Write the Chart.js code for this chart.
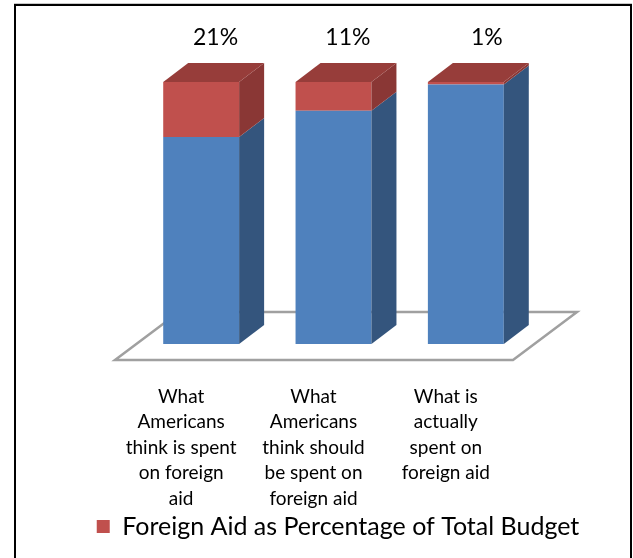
<!DOCTYPE html>
<html lang="en">
<head>
  <meta charset="UTF-8" />
  <title>Foreign Aid as Percentage of Total Budget</title>
  <script src="https://cdn.jsdelivr.net/npm/chart.js"></script>
  <style>
    * { margin: 0; padding: 0; box-sizing: border-box; }
    body { background: #fff; width: 633px; height: 558px; overflow: hidden; position: relative; }
    .wrap { position: absolute; left: 0; top: 0; width: 633px; height: 558px; }
    .frame {
      position: absolute; left: 14px; top: 4px; width: 618px; height: 600px;
      border: 2px solid #000; box-shadow: 0 -1px 0 #c8c8c8; pointer-events: none;
    }
  </style>
</head>
<body>
  <div class="wrap"><canvas id="chart"></canvas></div>
  <div class="frame"></div>

  <script>
    // data
    const categories = [
      ['What', 'Americans', 'think is spent', 'on foreign', 'aid'],
      ['What', 'Americans', 'think should', 'be spent on', 'foreign aid'],
      ['What is', 'actually', 'spent on', 'foreign aid']
    ];
    const aidPct = [21, 11, 1];
    const restPct = [79, 89, 99];
    const seriesName = 'Foreign Aid as Percentage of Total Budget';

    const FONT = 'Lato, "Open Sans", sans-serif';
    const frontColors = ['#4f81bd', '#c0504d'];
    const sideColors = ['#34557d', '#8a3735'];
    const topColor = '#973d3a';
    const DX = 25, DY = -19;

    // draws floor, bar sides/tops and % labels around the flat bars
    const box3d = {
      id: 'box3d',
      beforeDatasetsDraw(chart) {
        const { ctx, chartArea } = chart;
        const y0 = chart.scales.y.getPixelForValue(0);
        const fy = y0 + 16, by = y0 - 32;
        const lx = chartArea.left - 20, rx = chartArea.right - 19;
        ctx.save();
        ctx.beginPath();
        ctx.moveTo(lx, fy);
        ctx.lineTo(rx, fy);
        ctx.lineTo(rx + 64, by);
        ctx.lineTo(lx + 64, by);
        ctx.closePath();
        ctx.fillStyle = '#fff';
        ctx.fill();
        ctx.strokeStyle = '#a0a0a0';
        ctx.lineWidth = 2.5;
        ctx.stroke();
        ctx.restore();
      },
      afterDatasetsDraw(chart) {
        const { ctx } = chart;
        const n = chart.data.datasets.length;
        ctx.save();
        categories.forEach((c, i) => {
          let last = null;
          for (let d = 0; d < n; d++) {
            const p = chart.getDatasetMeta(d).data[i].getProps(['x', 'y', 'base', 'width'], true);
            const r = p.x + p.width / 2;
            const t = Math.min(p.y, p.base), b = Math.max(p.y, p.base);
            ctx.beginPath();
            ctx.moveTo(r, b);
            ctx.lineTo(r + DX, b + DY);
            ctx.lineTo(r + DX, t + DY);
            ctx.lineTo(r, t);
            ctx.closePath();
            ctx.fillStyle = sideColors[d];
            ctx.fill();
            last = { l: p.x - p.width / 2, r, t };
          }
          ctx.beginPath();
          ctx.moveTo(last.l, last.t);
          ctx.lineTo(last.l + DX, last.t + DY);
          ctx.lineTo(last.r + DX, last.t + DY);
          ctx.lineTo(last.r, last.t);
          ctx.closePath();
          ctx.fillStyle = topColor;
          ctx.fill();

          ctx.fillStyle = '#000';
          ctx.font = '23px ' + FONT;
          ctx.textAlign = 'right';
          ctx.textBaseline = 'middle';
          ctx.fillText(aidPct[i] + '%', last.r - 1, last.t - 44);
        });
        ctx.restore();
      }
    };

    Chart.defaults.color = '#000';
    Chart.defaults.font.family = FONT;

    // invisible side axes only reserve room so the plot sits where the reference has it
    const spacer = w => ({
      display: true,
      grid: { display: false, drawTicks: false },
      border: { display: false },
      ticks: { display: false },
      afterFit: s => { s.width = w; }
    });

    new Chart(document.getElementById('chart'), {
      type: 'bar',
      data: {
        labels: categories,
        datasets: [
          { label: 'Rest of Budget', data: restPct, backgroundColor: frontColors[0], borderWidth: 0 },
          { label: seriesName, data: aidPct, backgroundColor: frontColors[1], borderWidth: 0 }
        ]
      },
      options: {
        responsive: true,
        maintainAspectRatio: false,
        animation: false,
        layout: { padding: { left: 43, right: 0, top: 82, bottom: 9 } },
        barPercentage: 0.8,
        categoryPercentage: 0.717,
        scales: {
          x: {
            stacked: true,
            grid: { display: false, drawTicks: false },
            border: { display: false },
            ticks: {
              maxRotation: 0,
              autoSkip: false,
              padding: 40,
              labelOffset: -20,
              font: { size: 19, lineHeight: 1.34 }
            },
            afterFit: s => { s.height = 170; }
          },
          y: Object.assign(spacer(92), { stacked: true, min: 0, max: 100, position: 'left' }),
          yr: Object.assign(spacer(101), { position: 'right', min: 0, max: 100 })
        },
        plugins: {
          legend: {
            position: 'bottom',
            labels: {
              filter: item => item.datasetIndex === 1,
              boxWidth: 13,
              boxHeight: 13,
              padding: 0,
              font: { size: 25, lineHeight: 1 }
            }
          },
          tooltip: { enabled: false }
        }
      },
      plugins: [box3d]
    });
  </script>
</body>
</html>
